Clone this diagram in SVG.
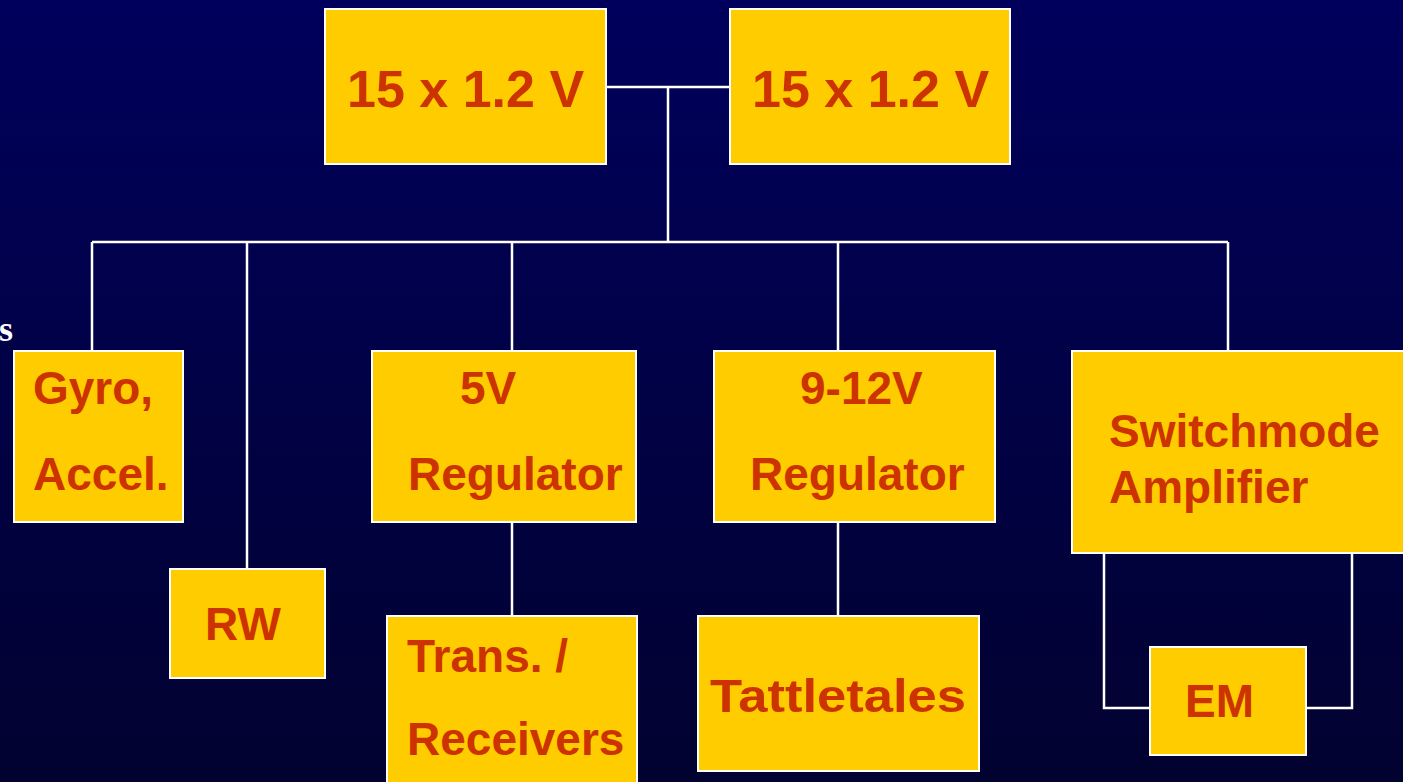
<svg xmlns="http://www.w3.org/2000/svg" width="1403" height="782" viewBox="0 0 1403 782">
  <defs>
    <linearGradient id="bg" x1="0" y1="0" x2="0" y2="1">
      <stop offset="0" stop-color="#00005C"/>
      <stop offset="1" stop-color="#020230"/>
    </linearGradient>
    <style>
      .box { fill: #FFCC00; stroke: #FFFFFF; stroke-width: 2; }
      .wire { fill: none; stroke: #FFFFFF; stroke-width: 2.5; }
      .lbl { font-family: "Liberation Sans", Arial, sans-serif; font-weight: bold; fill: #CC3300; font-size: 46px; }
      .big { font-size: 52px; }
    </style>
  </defs>
  <rect x="0" y="0" width="1403" height="782" fill="url(#bg)"/>
  <text x="-1" y="341" font-family="Liberation Serif, serif" font-weight="bold" font-size="36" fill="#FFFFFF">s</text>

  <g id="connectors">
    <path class="wire" d="M606 87 H730 M668 87 V242 M92 242 H1228"/>
    <path class="wire" d="M92 242 V351 M247 242 V569 M512 242 V351 M838 242 V351 M1228 242 V351"/>
    <path class="wire" d="M512 522 V616 M838 522 V616"/>
    <path class="wire" d="M1104 553 V708 H1150 M1352 553 V708 H1306"/>
  </g>

  <g id="battery-a">
    <rect class="box" x="325" y="9" width="281" height="155"/>
    <text class="lbl big" x="347" y="107">15 x 1.2 V</text>
  </g>
  <g id="battery-b">
    <rect class="box" x="730" y="9" width="280" height="155"/>
    <text class="lbl big" x="752" y="107">15 x 1.2 V</text>
  </g>
  <g id="gyro">
    <rect class="box" x="14" y="351" width="169" height="171"/>
    <text class="lbl" x="33" y="404">Gyro,</text>
    <text class="lbl" x="33" y="490">Accel.</text>
  </g>
  <g id="rw">
    <rect class="box" x="170" y="569" width="155" height="109"/>
    <text class="lbl" x="205" y="640">RW</text>
  </g>
  <g id="reg5">
    <rect class="box" x="372" y="351" width="264" height="171"/>
    <text class="lbl" x="460" y="404">5V</text>
    <text class="lbl" x="408" y="490">Regulator</text>
  </g>
  <g id="reg912">
    <rect class="box" x="714" y="351" width="281" height="171"/>
    <text class="lbl" x="800" y="404">9-12V</text>
    <text class="lbl" x="750" y="490">Regulator</text>
  </g>
  <g id="amp">
    <rect class="box" x="1072" y="351" width="340" height="202"/>
    <text class="lbl" x="1109" y="447">Switchmode</text>
    <text class="lbl" x="1109" y="503">Amplifier</text>
  </g>
  <g id="trans">
    <rect class="box" x="387" y="616" width="250" height="180"/>
    <text class="lbl" x="407" y="672">Trans. /</text>
    <text class="lbl" x="407" y="755">Receivers</text>
  </g>
  <g id="tattle">
    <rect class="box" x="698" y="616" width="281" height="155"/>
    <text class="lbl" x="710" y="712" font-size="52" textLength="256" lengthAdjust="spacingAndGlyphs">Tattletales</text>
  </g>
  <g id="em">
    <rect class="box" x="1150" y="647" width="156" height="108"/>
    <text class="lbl" x="1185" y="717">EM</text>
  </g>
</svg>
